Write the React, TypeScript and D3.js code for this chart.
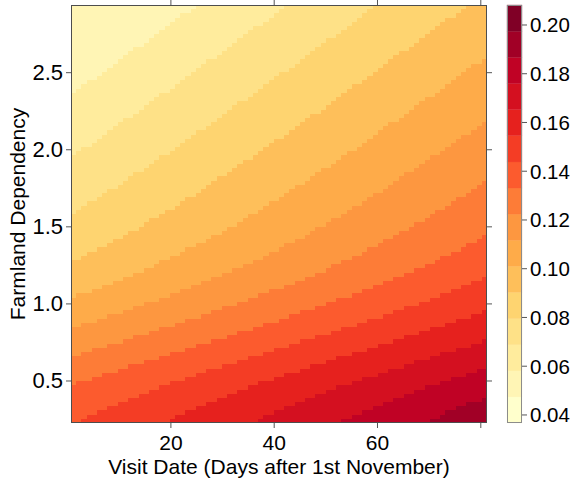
import React from "react";
import * as d3 from "d3";

// ---- data ----
const palette = ["#FFFFCC", "#FFEDA0", "#FED976", "#FEB24C", "#FD8D3C", "#FC4E2A", "#E31A1C", "#BD0026", "#800026"];
const keyBreaks = [0.0367, 0.0474, 0.0581, 0.0688, 0.0795, 0.0903, 0.101, 0.1117, 0.1224, 0.1331, 0.1438, 0.1546, 0.1653, 0.176, 0.1867, 0.1974, 0.2082];
const keyTicks = [0.04, 0.06, 0.08, 0.1, 0.12, 0.14, 0.16, 0.18, 0.2];
const keyTickLabels = ["0.04", "0.06", "0.08", "0.10", "0.12", "0.14", "0.16", "0.18", "0.20"];
const xTicks = [20, 40, 60, 80];
const xTickLabels = ["20", "40", "60", ""];
const yTicks = [0.5, 1.0, 1.5, 2.0, 2.5];
const yTickLabels = ["0.5", "1.0", "1.5", "2.0", "2.5"];
const xDomain = [0.66, 81.2];
const yDomain = [0.2275, 2.939];
const baseBand = 1;
// contour boundaries: visit day at which the surface crosses each break, read at these dependency values
const depLevels = [0.2275, 0.3, 0.4, 0.5, 0.6, 0.7, 0.8, 0.9, 1.0, 1.1, 1.2, 1.3, 1.4, 1.5, 1.7, 2.0, 2.3, 2.6, 2.939];
const boundaryBand = [2, 3, 4, 5, 6, 7, 8, 9, 10, 11, 12, 13, 14];
const boundaryDays = [
  [-140.4, -135.4, -127.9, -119.4, -109.9, -100.1, -90.4, -81.1, -72.3, -64.1, -56.6, -49.9, -43.9, -38.4, -28.4, -14.6, -1.7, 10.9, 25.1],
  [-122.9, -117.9, -110.4, -101.9, -92.4, -82.6, -72.9, -63.6, -54.8, -46.6, -39.1, -32.4, -26.4, -20.9, -10.9, 2.9, 15.8, 28.4, 42.6],
  [-105.4, -100.4, -92.9, -84.4, -74.9, -65.1, -55.4, -46.1, -37.3, -29.1, -21.6, -14.9, -8.9, -3.4, 6.6, 20.4, 33.3, 45.9, 60.1],
  [-87.9, -82.9, -75.4, -66.9, -57.4, -47.6, -37.9, -28.6, -19.8, -11.6, -4.1, 2.6, 8.6, 14.1, 24.1, 37.9, 50.8, 63.4, 77.6],
  [-70.4, -65.4, -57.9, -49.4, -39.9, -30.1, -20.4, -11.1, -2.3, 5.9, 13.4, 20.1, 26.1, 31.6, 41.6, 55.4, 68.3, 80.9, 95.1],
  [-52.9, -47.9, -40.4, -31.9, -22.4, -12.6, -2.9, 6.4, 15.2, 23.4, 30.9, 37.6, 43.6, 49.1, 59.1, 72.9, 85.8, 98.4, 112.6],
  [-35.4, -30.4, -22.9, -14.4, -4.9, 4.9, 14.6, 23.9, 32.7, 40.9, 48.4, 55.1, 61.1, 66.6, 76.6, 90.4, 103.3, 115.9, 130.1],
  [-17.9, -12.9, -5.4, 3.1, 12.6, 22.4, 32.1, 41.4, 50.2, 58.4, 65.9, 72.6, 78.6, 84.1, 94.1, 107.9, 120.8, 133.4, 147.6],
  [1.5, 6.0, 13.0, 21.2, 30.4, 40.0, 49.6, 58.9, 67.7, 75.9, 83.4, 90.1, 96.1, 101.6, 111.6, 125.4, 138.3, 150.9, 165.1],
  [18.6, 23.3, 30.4, 38.6, 47.9, 57.5, 67.1, 76.4, 85.2, 93.4, 100.9, 107.6, 113.6, 119.1, 129.1, 142.9, 155.8, 168.4, 182.6],
  [35.6, 40.4, 47.6, 55.9, 65.2, 74.9, 84.6, 93.9, 102.7, 110.9, 118.4, 125.1, 131.1, 136.6, 146.6, 160.4, 173.3, 185.9, 200.1],
  [52.1, 57.1, 64.6, 73.1, 82.6, 92.4, 102.1, 111.4, 120.2, 128.4, 135.9, 142.6, 148.6, 154.1, 164.1, 177.9, 190.8, 203.4, 217.6],
  [68.8, 73.9, 81.5, 90.2, 99.8, 109.7, 119.6, 128.9, 137.7, 145.9, 153.4, 160.1, 166.1, 171.6, 181.6, 195.4, 208.3, 220.9, 235.1],
];

const W = 576;
const H = 481;
const P = { left: 71, right: 487, top: 5, bottom: 423 };
const K = { left: 507, right: 522 };
const GRID = { cols: 80, rows: 100 };
const FONT = "'Liberation Sans', Arial, sans-serif";

export default function App() {
  const x = d3.scaleLinear().domain(xDomain).range([P.left, P.right]);
  const y = d3.scaleLinear().domain(yDomain).range([P.bottom, P.top]);
  const ky = d3.scaleLinear().domain([keyBreaks[0], keyBreaks[keyBreaks.length - 1]]).range([P.bottom, P.top]);
  const ramp = d3
    .scaleLinear<string>()
    .domain(palette.map((_, i) => i / (palette.length - 1)))
    .range(palette)
    .interpolate(d3.interpolateRgb);
  const nb = keyBreaks.length - 1;
  const bandColor = (i: number) => ramp(i / (nb - 1));

  const cw = (P.right - P.left) / GRID.cols;
  const rh = (P.bottom - P.top) / GRID.rows;

  // boundary drawn on the level-plot cell grid (staircase edges)
  const stairPath = (days: number[]) => {
    const dayAt = d3.scaleLinear().domain(depLevels).range(days);
    let d = "";
    for (let r = 0; r < GRID.rows; r++) {
      const yb = P.bottom - r * rh;
      const yt = yb - rh;
      const px = x(dayAt(y.invert((yb + yt) / 2)));
      let c = Math.ceil((px - P.left) / cw - 0.5);
      c = Math.max(-2, Math.min(GRID.cols + 2, c));
      const xe = P.left + c * cw;
      d += r === 0 ? `M${xe},${yb + 6}` : `L${xe},${yb}`;
      d += `L${xe},${yt}`;
      if (r === GRID.rows - 1) d += `L${xe},${P.top - 6}`;
    }
    d += `L${W + 200},${P.top - 6}L${W + 200},${P.bottom + 6}Z`;
    return d;
  };

  const bandPaths = boundaryDays.map((days, bi) => ({ d: stairPath(days), color: bandColor(boundaryBand[bi]) }));

  const tickColor = "#555";
  return (
    <svg width={W} height={H} style={{ position: "absolute", left: 0, top: 0, background: "#fff" }} fontFamily={FONT}>
      <defs>
        <clipPath id="panelClip">
          <rect x={P.left} y={P.top} width={P.right - P.left} height={P.bottom - P.top} />
        </clipPath>
      </defs>
      <g clipPath="url(#panelClip)" shapeRendering="crispEdges">
        <rect x={P.left} y={P.top} width={P.right - P.left} height={P.bottom - P.top} fill={bandColor(baseBand)} />
        {bandPaths.map((b, i) => (
          <path key={i} d={b.d} fill={b.color} />
        ))}
      </g>
      <rect x={P.left + 0.5} y={P.top + 0.5} width={P.right - P.left - 1} height={P.bottom - P.top - 1} fill="none" stroke="#4d4d4d" strokeWidth={1} />
      {xTicks.map((t, i) => (
        <g key={"xt" + i}>
          <line x1={x(t)} x2={x(t)} y1={P.bottom} y2={P.bottom + 5} stroke={tickColor} />
          <line x1={x(t)} x2={x(t)} y1={P.top} y2={P.top - 5} stroke={tickColor} />
          <text x={x(t)} y={450} textAnchor="middle" fontSize={21} fill="#000">
            {xTickLabels[i]}
          </text>
        </g>
      ))}
      {yTicks.map((t, i) => (
        <g key={"yt" + i}>
          <line x1={P.left} x2={P.left - 5} y1={y(t)} y2={y(t)} stroke={tickColor} />
          <line x1={P.right} x2={P.right + 5} y1={y(t)} y2={y(t)} stroke={tickColor} />
          <text x={63} y={y(t)} textAnchor="end" dominantBaseline="central" fontSize={22} fill="#000">
            {yTickLabels[i]}
          </text>
        </g>
      ))}
      <text x={(P.left + P.right) / 2} y={474} textAnchor="middle" fontSize={21} fill="#000">
        Visit Date (Days after 1st November)
      </text>
      <text transform={`translate(25,${(P.top + P.bottom) / 2}) rotate(-90)`} textAnchor="middle" fontSize={21} fill="#000">
        Farmland Dependency
      </text>
      {keyBreaks.slice(0, -1).map((b, i) => (
        <rect
          key={"k" + i}
          x={K.left}
          y={ky(keyBreaks[i + 1])}
          width={K.right - K.left}
          height={ky(b) - ky(keyBreaks[i + 1])}
          fill={bandColor(i)}
          stroke={bandColor(i)}
          strokeWidth={0.3}
        />
      ))}
      <rect x={K.left + 0.5} y={P.top + 0.5} width={K.right - K.left - 1} height={P.bottom - P.top - 1} fill="none" stroke="#8c8c8c" />
      {keyTicks.map((t, i) => (
        <g key={"kt" + i}>
          <line x1={K.right} x2={K.right + 5} y1={ky(t)} y2={ky(t)} stroke={tickColor} />
          <text x={530} y={ky(t)} dominantBaseline="central" fontSize={20.5} fill="#000">
            {keyTickLabels[i]}
          </text>
        </g>
      ))}
    </svg>
  );
}
